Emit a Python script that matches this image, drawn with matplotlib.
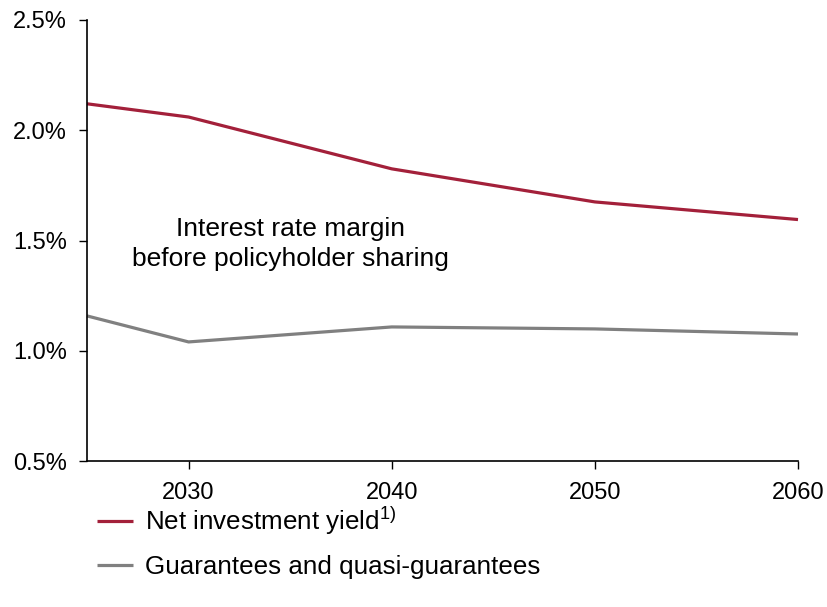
import matplotlib
matplotlib.use("Agg")
import matplotlib.pyplot as plt
from matplotlib.ticker import FuncFormatter

years = [2025, 2030, 2040, 2050, 2060]
net_yield = [2.12, 2.06, 1.825, 1.675, 1.595]
guarantees = [1.158, 1.04, 1.108, 1.099, 1.076]

plt.rcParams['font.family'] = ['Liberation Sans', 'DejaVu Sans']
plt.rcParams['mathtext.fontset'] = 'custom'
plt.rcParams['mathtext.rm'] = 'Liberation Sans'

red = '#A3203A'
gray = '#808080'

fig = plt.figure(figsize=(8.27, 6.07), dpi=100)
ax = fig.add_axes([87/827, 1 - 461/607, (798-87)/827, (461-20)/607])

ax.plot(years, net_yield, color=red, lw=2.3, label=r'Net investment yield$\mathregular{^{1)}}$',
        solid_capstyle='butt', clip_on=False)
ax.plot(years, guarantees, color=gray, lw=2.3, label='Guarantees and quasi-guarantees',
        solid_capstyle='butt', clip_on=False)

ax.set_xlim(2025, 2060)
ax.set_ylim(0.5, 2.5)
ax.set_xticks([2030, 2040, 2050, 2060])
ax.set_yticks([0.5, 1.0, 1.5, 2.0, 2.5])
ax.yaxis.set_major_formatter(FuncFormatter(lambda v, p: f'{v:.1f}%'))
ax.tick_params(labelsize=17, length=6, width=1, direction='out', pad=8.5)
ax.tick_params(axis='x', pad=9)
for s in ['top', 'right']:
    ax.spines[s].set_visible(False)
for s in ['left', 'bottom']:
    ax.spines[s].set_linewidth(1.2)

ax.text(2035, 1.485, 'Interest rate margin\nbefore policyholder sharing', ha='center', va='center',
        fontsize=19, linespacing=1.3)

leg = fig.legend(loc='upper left', bbox_to_anchor=(97/827, 1 - 505/607), frameon=False,
                 fontsize=18.7, handlelength=1.4, handletextpad=0.45, labelspacing=0.68,
                 borderaxespad=0, borderpad=0)

fig.savefig('out.png', dpi=100)
